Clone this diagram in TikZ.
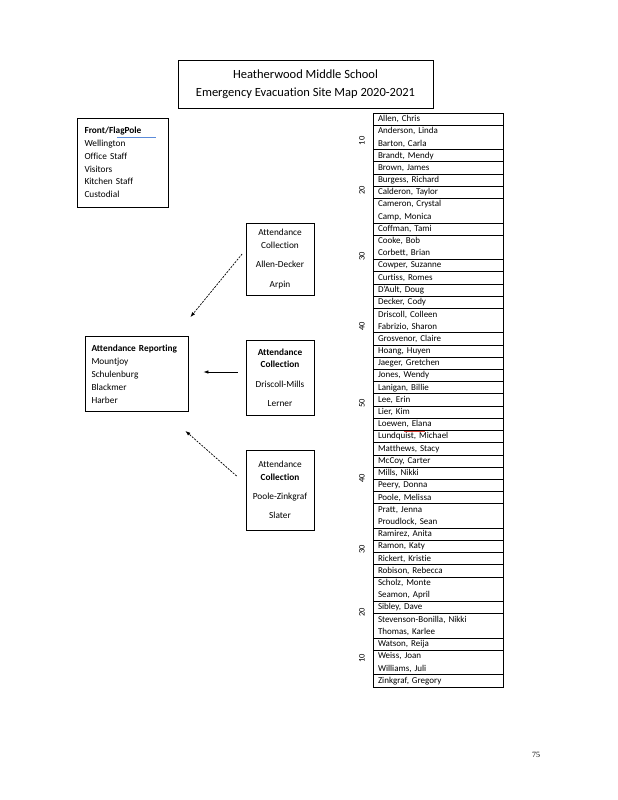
\documentclass[tikz,border=0pt]{standalone}
\usepackage{fontspec}
\setmainfont{Carlito}[Ligatures=NoCommon]
\newfontfamily\pagefont{Liberation Serif}
\usepackage{tikz}
\usetikzlibrary{arrows.meta,positioning}
\definecolor{spellblue}{HTML}{5B8BD9}
\definecolor{spellred}{HTML}{E0453A}

\begin{document}
\begin{tikzpicture}[
    x=1pt, y=-1pt,
    >={Latex[length=5pt,width=3.6pt]},
    box/.style={rectangle, draw, line width=0.8pt, inner sep=0pt, font=\fontsize{9.3}{12.8}\selectfont},
    listbox/.style={box, align=left, inner xsep=7pt},
    collect/.style={box, align=center, minimum width=68pt},
    cell/.style={rectangle, draw, line width=0.7pt, outer sep=0pt, inner xsep=5pt, inner ysep=0pt, text width=120pt, align=left, font=\fontsize{9}{12.21}\selectfont},
    yard/.style={font=\fontsize{8.5}{10}\selectfont, rotate=90},
    link/.style={->, line width=0.7pt},
]
\useasboundingbox (0,0) rectangle (618,800);

% Title
\node[box, minimum width=255pt, minimum height=48pt, align=center, font=\fontsize{12.5}{17.5}\selectfont] (title) at (305.5,84) {Heatherwood Middle School\\Emergency Evacuation Site Map 2020-2021};

% Front group
\node[listbox, text width=77pt, minimum height=89pt] (front) at (123,162.5) {\textbf{Front/FlagPole}\\Wellington\\Office Staff\\Visitors\\Kitchen Staff\\Custodial};
\draw[spellblue, line width=1.2pt] (117,137.5) -- (156,137.5);

% Reporting
\node[listbox, text width=90pt, inner xsep=6.5pt, minimum height=75pt, font=\fontsize{9.3}{13}\selectfont] (report) at (136.5,374) {\textbf{Attendance Reporting}\\Mountjoy\\Schulenburg\\Blackmer\\Harber};

% Collection points
\node[collect, minimum height=72pt] (coll1) at (280,259) {Attendance\\Collection\\[6.5pt]Allen-Decker\\[6.5pt]Arpin};
\node[collect, minimum height=75pt] (coll2) at (280,377.5) {\textbf{Attendance}\\\textbf{Collection}\\[6.5pt]Driscoll-Mills\\[6.5pt]Lerner};
\node[collect, minimum height=80pt] (coll3) at (280,490) {Attendance\\\textbf{Collection}\\[6.5pt]Poole-Zinkgraf\\[6.5pt]Slater};

% Arrows
\draw[link, dash pattern=on 2pt off 1.2pt] ([xshift=-3.5pt,yshift=5pt]coll1.west) -- ([xshift=2pt,yshift=19pt]report.north east);
\draw[link] ([xshift=-8pt,yshift=5.5pt]coll2.west) -- ([xshift=15pt,yshift=2pt]report.east);
\draw[link, dash pattern=on 2pt off 1.2pt] ([xshift=-9pt,yshift=14pt]coll3.west) -- ([xshift=-3pt,yshift=-19pt]report.south east);

% Staff list
\coordinate (c0) at (438,113);
\foreach \who/\rows [count=\i, remember=\i as \prev (initially 0)] in {
    {Allen, Chris}/1, {Anderson, Linda\\Barton, Carla}/2, {Brandt, Mendy}/1,
    {Brown, James}/1, {Burgess, Richard}/1, {Calderon, Taylor}/1,
    {Cameron, Crystal\\Camp, Monica}/2, {Coffman, Tami}/1,
    {Cooke, Bob\\Corbett, Brian}/2, {Cowper, Suzanne}/1, {Curtiss, Romes}/1,
    {D'Ault, Doug}/1, {Decker, Cody}/1, {Driscoll, Colleen\\Fabrizio, Sharon}/2,
    {Grosvenor, Claire}/1, {Hoang, Huyen}/1, {Jaeger, Gretchen}/1,
    {Jones, Wendy}/1, {Lanigan, Billie}/1, {Lee, Erin}/1, {Lier, Kim}/1,
    {Loewen, Elana}/1, {Lundquist, Michael}/1, {Matthews, Stacy}/1,
    {McCoy, Carter}/1, {Mills, Nikki}/1, {Peery, Donna}/1, {Poole, Melissa}/1,
    {Pratt, Jenna\\Proudlock, Sean}/2, {Ramirez, Anita}/1, {Ramon, Katy}/1,
    {Rickert, Kristie}/1, {Robison, Rebecca}/1, {Scholz, Monte\\Seamon, April}/2,
    {Sibley, Dave}/1, {Stevenson-Bonilla, Nikki\\Thomas, Karlee}/2,
    {Watson, Reija}/1, {Weiss, Joan\\Williams, Juli}/2, {Zinkgraf, Gregory}/1}
  \node[cell, minimum height=\rows*12.21pt, below=0pt of c\prev] (c\i) {\who};
\draw[spellred, line width=0.6pt] (404,431) -- (425,431);

% Yard lines
\foreach \yd/\pos [count=\k] in {10/141, 20/190, 30/256, 40/326, 50/403, 40/478, 30/549, 20/612, 10/658}
  \node[yard] (yd\k) at (362,\pos) {\yd};

% Page number
\node[font=\pagefont\fontsize{8}{10}\selectfont] (pagenum) at (536,755) {75};

\end{tikzpicture}
\end{document}
